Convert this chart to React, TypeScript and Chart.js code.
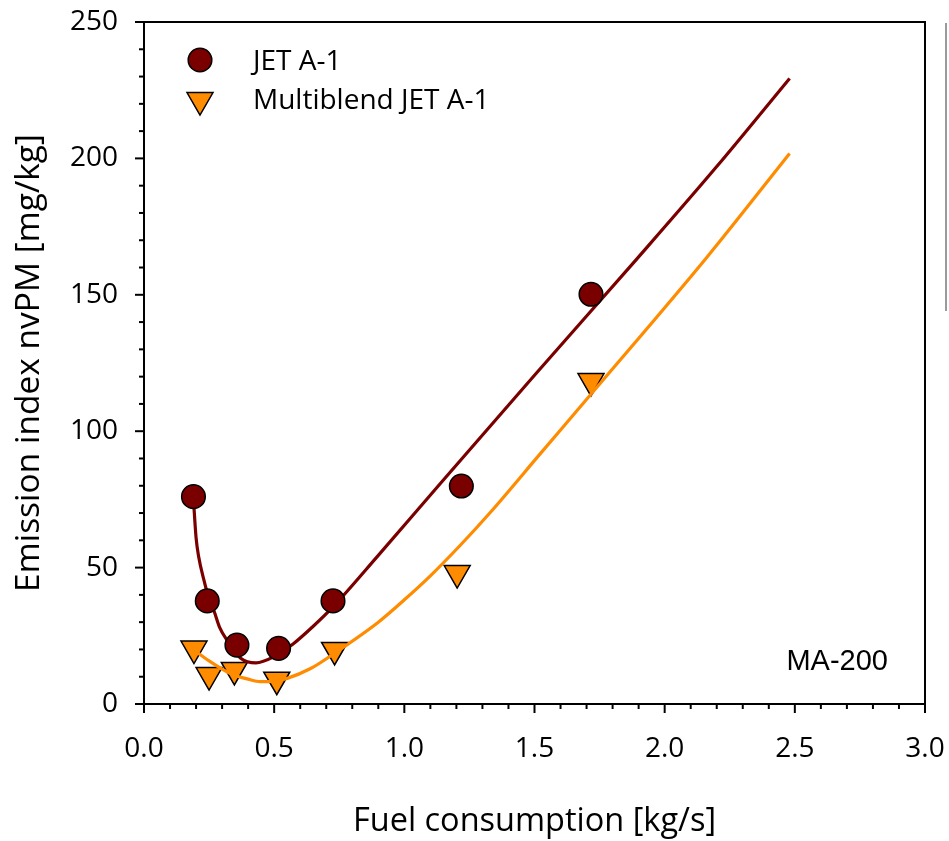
import React, { useEffect, useRef } from "react";
import { Chart, registerables } from "chart.js";

Chart.register(...registerables);

// ---------- data ----------
const jetX = [0.19, 0.243, 0.357, 0.517, 0.726, 1.219, 1.717];
const jetY = [76.0, 37.8, 21.6, 20.4, 37.8, 79.9, 150.2];

const blendX = [0.192, 0.25, 0.347, 0.51, 0.732, 1.203, 1.717];
const blendY = [20.3, 10.6, 12.5, 8.9, 19.8, 48.0, 118.4];

const jetFitX = [0.19, 0.2, 0.21, 0.23, 0.25, 0.27, 0.29, 0.32, 0.37, 0.43, 0.5, 0.575, 0.65, 0.725, 0.9, 1.14, 1.5, 1.89, 2.2, 2.48];
const jetFitY = [75, 61, 54, 45.5, 38.5, 33.8, 28.2, 23.2, 16.9, 15.1, 17.4, 22.2, 28.5, 35.5, 54.5, 81, 120.5, 162.8, 197, 229.3];

const blendFitX = [0.196, 0.25, 0.3, 0.345, 0.4, 0.446, 0.5, 0.55, 0.64, 0.73, 0.9, 1.0, 1.1, 1.215, 1.33, 1.52, 1.72, 2.16, 2.48];
const blendFitY = [19.5, 15.8, 12.8, 10.6, 9.1, 8.2, 8.4, 9.4, 13, 18.5, 30, 38.2, 47, 58.2, 70.2, 91.5, 113.9, 163.5, 201.8];

const xTickLabels = ["0.0", "0.5", "1.0", "1.5", "2.0", "2.5", "3.0"];
const yTickLabels = ["0", "50", "100", "150", "200", "250"];

const seriesNames = ["JET A-1", "Multiblend JET A-1"];
const engineLabel = "MA-200";
const xTitle = "Fuel consumption [kg/s]";
const yTitle = "Emission index nvPM [mg/kg]";

// ---------- styles ----------
const DARK_RED = "#7a0000";
const ORANGE = "#ff8c00";
const FONT = "'Open Sans', sans-serif";

const zip = (xs: number[], ys: number[]) => xs.map((x, i) => ({ x, y: ys[i] }));

const decorPlugin = {
  id: "decor",
  afterDraw(chart: any) {
    const { ctx, chartArea } = chart;
    const { left, right, top, bottom } = chartArea;
    const xs = chart.scales.x;
    const ys = chart.scales.y;
    ctx.save();
    ctx.strokeStyle = "#000";
    ctx.lineWidth = 2;
    // top & right frame
    ctx.beginPath();
    ctx.moveTo(left - 9, top);
    ctx.lineTo(right, top);
    ctx.lineTo(right, bottom);
    ctx.stroke();
    // x ticks (major every 0.5, minor every 0.1)
    for (let i = 0; i <= 30; i++) {
      const px = xs.getPixelForValue(i / 10);
      const len = i % 5 === 0 ? 9 : 5;
      ctx.beginPath();
      ctx.moveTo(px, bottom);
      ctx.lineTo(px, bottom + len);
      ctx.stroke();
    }
    // y ticks (major every 50, minor every 10)
    for (let i = 0; i <= 25; i++) {
      const py = ys.getPixelForValue(i * 10);
      const len = i % 5 === 0 ? 9 : 5;
      ctx.beginPath();
      ctx.moveTo(left - len, py);
      ctx.lineTo(left, py);
      ctx.stroke();
    }
    // legend
    const lx = left + 56;
    const ly1 = top + 38;
    const ly2 = top + 78;
    ctx.lineWidth = 1.5;
    ctx.strokeStyle = "#000";
    ctx.fillStyle = DARK_RED;
    ctx.beginPath();
    ctx.arc(lx, ly1, 11.8, 0, Math.PI * 2);
    ctx.fill();
    ctx.stroke();
    const r = 15;
    ctx.fillStyle = ORANGE;
    ctx.beginPath();
    ctx.moveTo(lx, ly2 + r);
    ctx.lineTo(lx - r * Math.sin(Math.PI / 3), ly2 - r / 2);
    ctx.lineTo(lx + r * Math.sin(Math.PI / 3), ly2 - r / 2);
    ctx.closePath();
    ctx.fill();
    ctx.stroke();
    ctx.fillStyle = "#000";
    ctx.font = `28px ${FONT}`;
    ctx.textAlign = "left";
    ctx.textBaseline = "middle";
    ctx.fillText(seriesNames[0], left + 109, ly1 + 2);
    ctx.fillText(seriesNames[1], left + 109, ly2 + 1);
    // engine label
    ctx.font = "29px 'Liberation Sans', Arial, sans-serif";
    ctx.textAlign = "right";
    ctx.textBaseline = "alphabetic";
    ctx.fillText(engineLabel, right - 37, bottom - 34);
    // partial grey frame at right edge
    ctx.strokeStyle = "#9a9a9a";
    ctx.lineWidth = 2;
    ctx.beginPath();
    ctx.moveTo(right + 21, top + 1);
    ctx.lineTo(right + 21, top + 289);
    ctx.stroke();
    ctx.restore();
  },
};

export default function App() {
  const ref = useRef<HTMLCanvasElement | null>(null);

  useEffect(() => {
    if (!ref.current) return;
    const chart = new Chart(ref.current, {
      type: "scatter",
      data: {
        datasets: [
          {
            label: seriesNames[0],
            data: zip(jetX, jetY),
            pointStyle: "circle",
            pointRadius: 11.8,
            pointBackgroundColor: DARK_RED,
            pointBorderColor: "#000",
            pointBorderWidth: 1.5,
            showLine: false,
            order: 1,
          },
          {
            label: "fit1",
            type: "line",
            data: zip(jetFitX, jetFitY),
            borderColor: DARK_RED,
            borderWidth: 3.2,
            pointRadius: 0,
            fill: false,
            cubicInterpolationMode: "monotone",
            order: 2,
          },
          {
            label: "fit2",
            type: "line",
            data: zip(blendFitX, blendFitY),
            borderColor: ORANGE,
            borderWidth: 3.2,
            pointRadius: 0,
            fill: false,
            cubicInterpolationMode: "monotone",
            order: 3,
          },
          {
            label: seriesNames[1],
            data: zip(blendX, blendY),
            pointStyle: "triangle",
            rotation: 180,
            pointRadius: 15,
            pointBackgroundColor: ORANGE,
            pointBorderColor: "#000",
            pointBorderWidth: 1.5,
            showLine: false,
            order: 4,
          } as any,
        ],
      },
      options: {
        animation: false,
        responsive: false,
        events: [],
        layout: { padding: { top: 22, right: 24, left: 0, bottom: 0 } },
        plugins: {
          legend: { display: false },
          tooltip: { enabled: false },
        },
        scales: {
          x: {
            type: "linear",
            min: 0,
            max: 3,
            afterBuildTicks: (s: any) => {
              s.ticks = xTickLabels.map((t) => ({ value: parseFloat(t) }));
            },
            afterFit: (s: any) => {
              s.height = 137;
              s.paddingLeft = 0;
              s.paddingRight = 0;
            },
            grid: { display: false, drawTicks: false },
            border: { display: true, color: "#000", width: 2 },
            ticks: {
              color: "#000",
              font: { family: FONT, size: 28 },
              padding: 28,
              maxRotation: 0,
              autoSkip: false,
              callback: (v: any) => Number(v).toFixed(1),
            },
            title: {
              display: true,
              text: xTitle,
              color: "#000",
              font: { family: FONT, size: 32.5 },
              padding: { top: 0, bottom: 0 },
            },
          },
          y: {
            type: "linear",
            min: 0,
            max: 250,
            afterBuildTicks: (s: any) => {
              s.ticks = yTickLabels.map((t) => ({ value: parseFloat(t) }));
            },
            afterFit: (s: any) => {
              s.width = 144;
              s.paddingTop = 0;
              s.paddingBottom = 0;
            },
            grid: { display: false, drawTicks: false },
            border: { display: true, color: "#000", width: 2 },
            ticks: {
              color: "#000",
              font: { family: FONT, size: 28 },
              padding: 26,
              autoSkip: false,
              callback: (v: any) => String(v),
            },
            title: {
              display: true,
              text: yTitle,
              color: "#000",
              font: { family: FONT, size: 33.5 },
              padding: { top: 9, bottom: 0 },
            },
          },
        },
      },
      plugins: [decorPlugin],
    });
    return () => chart.destroy();
  }, []);

  return (
    <div style={{ position: "absolute", left: 0, top: 0, width: 949, height: 841, background: "#fff" }}>
      <canvas ref={ref} width={949} height={841} style={{ display: "block" }} />
    </div>
  );
}
